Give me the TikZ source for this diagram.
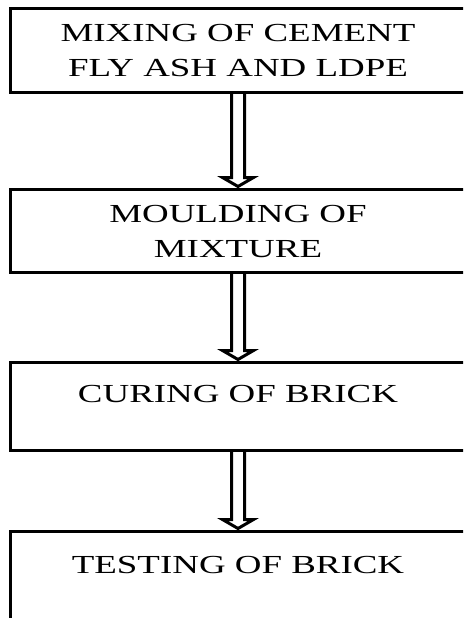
\documentclass[tikz,border=0pt]{standalone}
\usepackage{fontspec}
\setmainfont{Liberation Serif}[FakeStretch=1.42]
\usetikzlibrary{calc}

\tikzset{
  stagebox/.style={draw=black, line width=3pt, rectangle, minimum width=456pt, inner sep=0pt},
  stagetext/.style={align=center, inner sep=0pt, font=\fontsize{26}{35}\selectfont, text=black},
  % hollow outline arrow: two shaft lines ending in an open head
  hollowarrow/.style={draw=black, line width=3pt, line join=miter,
    to path={let \p1=(\tikztostart), \p2=(\tikztotarget) in
      (\x1-6.5pt,\y1) -- (\x1-6.5pt,\y2+10pt) -- (\x1-15.5pt,\y2+10pt)
      -- (\x2,\y2+1pt)
      -- (\x1+15.5pt,\y2+10pt) -- (\x1+6.5pt,\y2+10pt) -- (\x1+6.5pt,\y1)}}
}

\begin{document}
\begin{tikzpicture}[x=1pt,y=-1pt]
  \useasboundingbox (0,0) rectangle (463,618);
  \clip (0,0) rectangle (463,618);

  % process stages
  \node[stagebox, minimum height=83pt]  (b1) at (238,50.5)  {};
  \node[stagebox, minimum height=83pt]  (b2) at (238,230.5) {};
  \node[stagebox, minimum height=88pt]  (b3) at (238,406)   {};
  \node[stagebox, minimum height=109pt] (b4) at (238,585.5) {};

  % stage labels (base anchor sits on the last line)
  \node[stagetext, anchor=base] (t1) at (238,76)  {MIXING OF CEMENT\\FLY ASH AND LDPE};
  \node[stagetext, anchor=base] (t2) at (238,257) {MOULDING OF\\MIXTURE};
  \node[stagetext, anchor=base] (t3) at (238,402) {CURING OF BRICK};
  \node[stagetext, anchor=base] (t4) at (238,573) {TESTING OF BRICK};

  % flow between stages
  \draw[hollowarrow] (b1.south) to (b2.north);
  \draw[hollowarrow] (b2.south) to (b3.north);
  \draw[hollowarrow] (b3.south) to (b4.north);
\end{tikzpicture}
\end{document}
